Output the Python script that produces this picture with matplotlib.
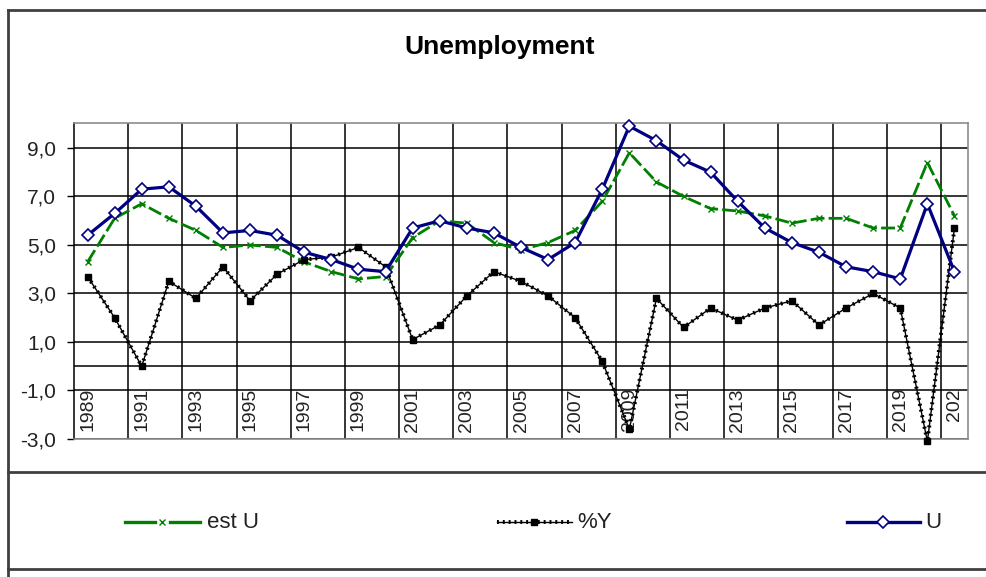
import numpy as np
import matplotlib
matplotlib.use("Agg")
import matplotlib.pyplot as plt
from matplotlib.lines import Line2D

plt.rcParams['font.family'] = ['Liberation Sans', 'DejaVu Sans']

years = list(range(1989, 2022))
est_u = [4.3, 6.1, 6.7, 6.1, 5.6, 4.9, 5.0, 4.9, 4.3, 3.9, 3.6, 3.7, 5.3, 6.0, 5.9,
         5.1, 4.8, 5.1, 5.6, 6.8, 8.8, 7.6, 7.0, 6.5, 6.4, 6.2, 5.9, 6.1, 6.1, 5.7,
         5.7, 8.4, 6.2]
pct_y = [3.7, 2.0, 0.0, 3.5, 2.8, 4.1, 2.7, 3.8, 4.4, 4.5, 4.9, 4.1, 1.1, 1.7, 2.9,
         3.9, 3.5, 2.9, 2.0, 0.2, -2.6, 2.8, 1.6, 2.4, 1.9, 2.4, 2.7, 1.7, 2.4, 3.0,
         2.4, -3.1, 5.7]
u = [5.4, 6.3, 7.3, 7.4, 6.6, 5.5, 5.6, 5.4, 4.7, 4.4, 4.0, 3.9, 5.7, 6.0, 5.7,
     5.5, 4.9, 4.4, 5.1, 7.3, 9.9, 9.3, 8.5, 8.0, 6.8, 5.7, 5.1, 4.7, 4.1, 3.9,
     3.6, 6.7, 3.9]
yticks = [-3, -1, 1, 3, 5, 7, 9]
ytick_labels = ["-3,0", "-1,0", "1,0", "3,0", "5,0", "7,0", "9,0"]
xlabel_years = list(range(1989, 2022, 2))
xlabel_texts = [str(y) for y in xlabel_years[:-1]] + ["202"]
series_names = ["est U", "%Y", "U"]

W, H = 987, 577
fig = plt.figure(figsize=(W / 100, H / 100), dpi=100)
fig.patch.set_facecolor('white')

L, R, T, B = 74, 968, 123, 439
ax = fig.add_axes([L / W, 1 - B / H, (R - L) / W, (B - T) / H])
ax.set_xlim(years[0] - 0.5, years[-1] + 0.5)
ax.set_ylim(-3, 10.03)

# grid
ax.set_yticks(yticks)
ax.set_yticklabels(ytick_labels, fontsize=15)
ax.set_xticks(np.arange(years[0] + 1.5, years[-1], 2))
ax.set_xticklabels([])
ax.tick_params(axis='x', length=0)
ax.tick_params(axis='y', length=5, width=1, color='black', pad=8, labelcolor='#222222')
ax.grid(True, color='black', linewidth=1.1)
ax.set_axisbelow(True)
ax.axhline(0, color='black', linewidth=1.1, zorder=1)
for s in ['top', 'right', 'bottom']:
    ax.spines[s].set_color('#8c8c8c')
    ax.spines[s].set_linewidth(1.2)
ax.spines['left'].set_color('black')
ax.spines['left'].set_linewidth(1.1)

# x labels inside the plot area
for yr, t in zip(xlabel_years, xlabel_texts):
    ax.text(yr, -0.9, t, rotation=90, ha='center', va='top', fontsize=14,
            color='#222222', zorder=2)

# series
ax.plot(years, est_u, color='#008000', linewidth=2.0, dashes=(5, 1.5),
        marker='x', markersize=4.5, markeredgewidth=1.0, zorder=3)
ax.plot(years, pct_y, color='black', linewidth=1.0, zorder=4)
ax.plot(years, pct_y, color='black', linewidth=2.8, linestyle=(0, (0.5, 1.0)),
        marker='s', markersize=4.5, zorder=4, clip_on=False)
ax.plot(years, u, color='#000080', linewidth=2.3, marker='D', markersize=6,
        markerfacecolor='white', markeredgecolor='#000080', markeredgewidth=1.2,
        zorder=5, clip_on=False)

# title
fig.text(500 / W, 1 - 47 / H, "Unemployment", ha='center', va='center',
         fontsize=19, fontweight='bold')

# chart border and legend box
bc = '#404040'
fig.add_artist(Line2D([8 / W, 8 / W], [1 - 10 / H, 0], transform=fig.transFigure,
                      color=bc, linewidth=2))
fig.add_artist(Line2D([8 / W, 1.01], [1 - 10 / H, 1 - 10 / H], transform=fig.transFigure,
                      color=bc, linewidth=2))
for yy in (472, 569):
    fig.add_artist(Line2D([8 / W, 1.01], [1 - yy / H, 1 - yy / H],
                          transform=fig.transFigure, color=bc, linewidth=2))

# legend
ly = 1 - 522 / H
def leg_line(x0, x1, **kw):
    fig.add_artist(Line2D([x0 / W, x1 / W], [ly, ly], transform=fig.transFigure, **kw))
def leg_marker(xm, **kw):
    fig.add_artist(Line2D([xm / W], [ly], transform=fig.transFigure, linestyle='none', **kw))

leg_line(125, 155, color='#008000', linewidth=2.4)
leg_line(170, 200, color='#008000', linewidth=2.4)
leg_marker(162, marker='x', color='#008000', markersize=4, markeredgewidth=1)
fig.text(207 / W, ly, series_names[0], ha='left', va='center', fontsize=16, color='#222222')

leg_line(497, 572, color='black', linewidth=1.0)
leg_line(497, 572, color='black', linewidth=2.8, linestyle=(0, (0.5, 1.0)))
leg_marker(534, marker='s', color='black', markersize=4.5)
fig.text(577 / W, ly, series_names[1], ha='left', va='center', fontsize=16, color='#222222')

leg_line(847, 920, color='#000080', linewidth=2.4)
leg_marker(883, marker='D', markersize=6, markerfacecolor='white',
           markeredgecolor='#000080', markeredgewidth=1.2)
fig.text(925 / W, ly, series_names[2], ha='left', va='center', fontsize=16, color='#222222')

fig.savefig('out.png', dpi=100)
